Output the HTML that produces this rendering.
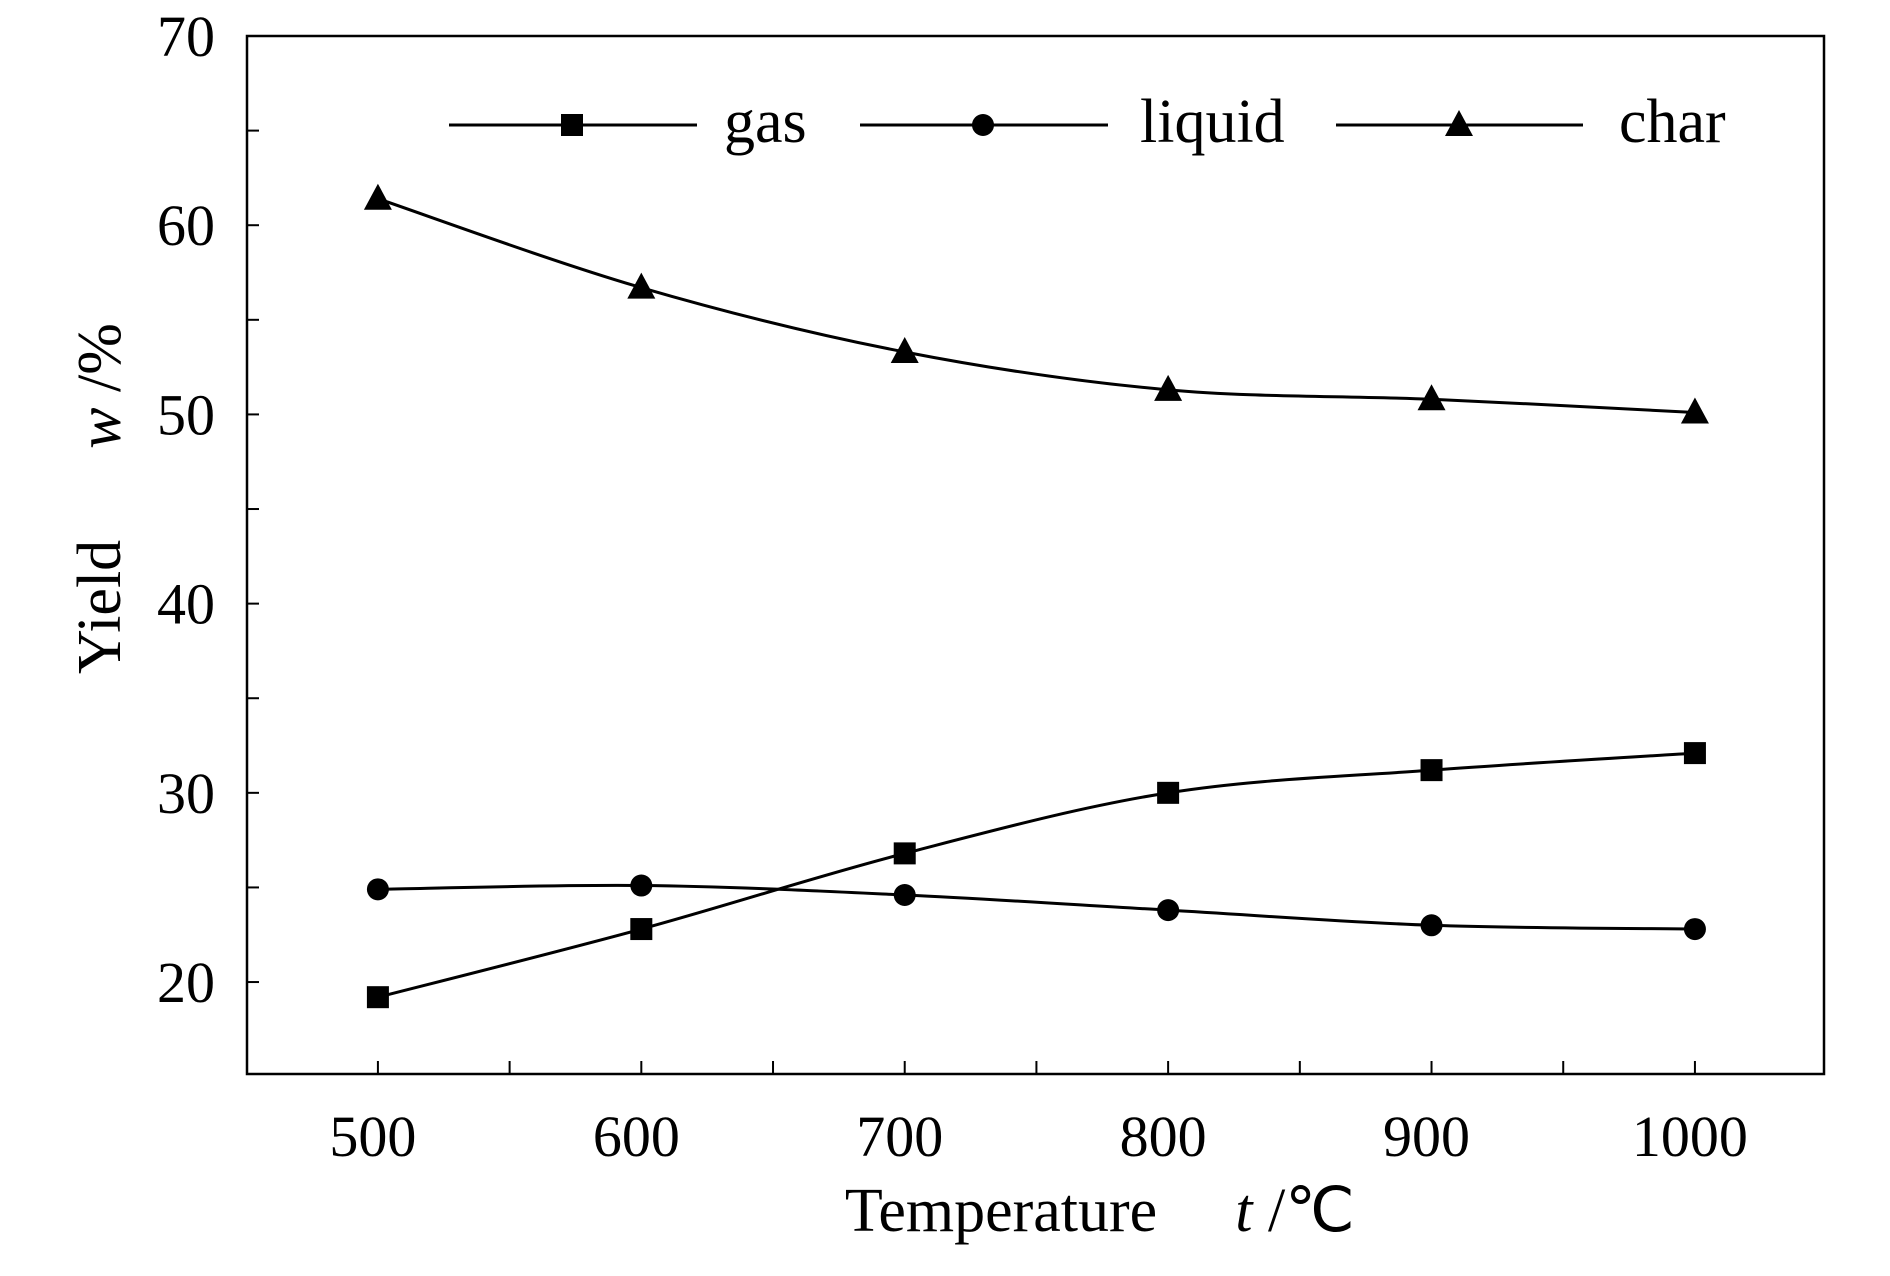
<!DOCTYPE html>
<html><head><meta charset="utf-8"><style>
html,body{margin:0;padding:0;background:#fff;}
svg{display:block;font-family:"Liberation Serif",serif;}
</style></head><body>
<svg id="chart" width="1890" height="1276" viewBox="0 0 1890 1276"></svg>
<script>
const categories=[500,600,700,800,900,1000];
const gasValues=[19.2,22.8,26.8,30.0,31.2,32.1];
const liquidValues=[24.9,25.1,24.6,23.8,23.0,22.8];
const charValues=[61.4,56.7,53.3,51.3,50.8,50.1];
const yTickLabels=[20,30,40,50,60,70];
const xTickLabels=[500,600,700,800,900,1000];
const L=247,R=1824,T=36,B=1074;
const xMin=450.3,xMax=1049,yMin=15.14,yMax=70;
const xs=v=>L+(v-xMin)/(xMax-xMin)*(R-L);
const ys=v=>B-(v-yMin)/(yMax-yMin)*(B-T);
const svg=document.getElementById('chart');
const NS='http://www.w3.org/2000/svg';
function mk(t,a,p){const e=document.createElementNS(NS,t);for(const k in a)e.setAttribute(k,a[k]);(p||svg).appendChild(e);return e;}
const frame=mk('rect',{x:L,y:T,width:R-L,height:B-T,fill:'none',stroke:'#000','stroke-width':2.5});


for(let v=20;v<=70;v+=5){const y=ys(v);
 const t=mk('line',{x1:L,x2:L+12,y1:y,y2:y,stroke:'#000','stroke-width':2});
 
 }
yTickLabels.forEach(v=>{const t=mk('text',{x:215,y:ys(v)+20,'text-anchor':'end','font-size':58});t.textContent=v;
 
 });
for(let v=500;v<=1000;v+=50){const x=xs(v);
 const t=mk('line',{x1:x,x2:x,y1:B,y2:B-13,stroke:'#000','stroke-width':2});
 
 }
xTickLabels.forEach(v=>{const t=mk('text',{x:xs(v)-5,y:1156,'text-anchor':'middle','font-size':58});t.textContent=v;
 
 });
const yt=mk('text',{transform:'translate(120,607) rotate(-90)','text-anchor':'middle','font-size':62});yt.textContent='Yield';


const yt2=mk('text',{transform:'translate(120,386) rotate(-90)','text-anchor':'middle','font-size':62});yt2.innerHTML='<tspan font-style="italic">w</tspan> /%';


const xt=mk('text',{x:1001,y:1231,'text-anchor':'middle','font-size':62});xt.textContent='Temperature';


const xt2=mk('text',{x:1295,y:1231,'text-anchor':'middle','font-size':62});xt2.innerHTML='<tspan font-style="italic">t</tspan> /℃';


function marker(type,x,y,name){let e;
 if(type==='square')e=mk('rect',{x:x-11,y:y-11,width:22,height:22,fill:'#000'});
 else if(type==='circle')e=mk('circle',{cx:x,cy:y,r:11,fill:'#000'});
 else e=mk('polygon',{points:`${x},${y-15} ${x-14},${y+11} ${x+14},${y+11}`,fill:'#000'});
 
 }
function spline(vals){const p=categories.map((c,i)=>[xs(c),ys(vals[i])]);let d=`M${p[0][0]},${p[0][1]}`;
 for(let i=0;i<p.length-1;i++){const p0=p[i-1]||p[i],p1=p[i],p2=p[i+1],p3=p[i+2]||p2;
  const c1=[p1[0]+(p2[0]-p0[0])/6,p1[1]+(p2[1]-p0[1])/6],c2=[p2[0]-(p3[0]-p1[0])/6,p2[1]-(p3[1]-p1[1])/6];
  d+=` C${c1[0]},${c1[1]} ${c2[0]},${c2[1]} ${p2[0]},${p2[1]}`;}return d;}
[['gas',gasValues,'square'],['liquid',liquidValues,'circle'],['char',charValues,'triangle']].forEach(([n,vals,m])=>{
 const l=mk('path',{d:spline(vals),fill:'none',stroke:'#000','stroke-width':3});
 
 
 categories.forEach((c,i)=>marker(m,xs(c),ys(vals[i]),n+'-point'));});
[['gas',449,697,572,724,'square'],['liquid',860,1108,983,1140,'circle'],['char',1336,1583,1459,1619,'triangle']].forEach(([n,a,b,mx,tx,m])=>{
 const l=mk('line',{x1:a,x2:b,y1:125,y2:125,stroke:'#000','stroke-width':3});
 
 
 marker(m,mx,125,'legend-marker-'+n);
 const t=mk('text',{x:tx,y:142,'font-size':62});t.textContent=n;
 
 });
</script>
</body></html>
